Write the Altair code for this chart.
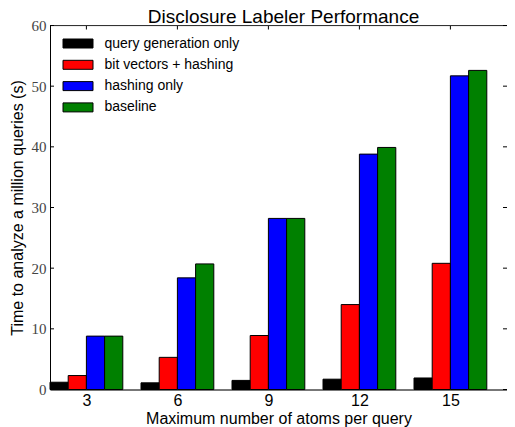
import json
import altair as alt
import pandas as pd

chart_title = "Disclosure Labeler Performance"
atoms = [3, 6, 9, 12, 15]
series_names = ["query generation only", "bit vectors + hashing", "hashing only", "baseline"]
series_colors = ["#000000", "#ff0000", "#0000ff", "#008000"]
query_gen = [1.2, 1.1, 1.5, 1.7, 1.9]
bitvec_hash = [2.3, 5.3, 8.9, 14.0, 20.8]
hash_only = [8.8, 18.4, 28.2, 38.8, 51.7]
baseline = [8.8, 20.7, 28.2, 39.9, 52.6]
y_ticks = [0, 10, 20, 30, 40, 50, 60]

values_by_series = [query_gen, bitvec_hash, hash_only, baseline]
rows = []
for si, (name, vals) in enumerate(zip(series_names, values_by_series)):
    for gi, (a, v) in enumerate(zip(atoms, vals)):
        rows.append({"atoms": a, "gi": gi, "si": si, "series": name, "time": v})
bars_df = pd.DataFrame(rows)
groups_df = pd.DataFrame({"atoms": atoms, "gi": list(range(len(atoms)))})
yticks_df = pd.DataFrame({"time": y_ticks})
title_df = pd.DataFrame({"title": [chart_title]})

W, H = 457, 364
n_series = len(series_names)
group_w = 0.8
bar_w = group_w / n_series
x_max = W / 91.0

x_scale = alt.Scale(domain=[0, x_max], nice=False, zero=False)
y_scale = alt.Scale(domain=[0, 60], nice=False, zero=True)

label_expr = json.dumps([str(a) for a in atoms]) + f"[round(datum.value - {group_w / 2})]"

x_axis = alt.Axis(
    values=[gi + group_w / 2 for gi in range(len(atoms))],
    labelExpr=label_expr, title="Maximum number of atoms per query",
    ticks=False, domain=True, domainColor="black", grid=False, labelPadding=3,
    labelFont="Liberation Sans", labelFontSize=16, labelColor="black",
    titleFont="Liberation Sans", titleFontSize=16, titleFontWeight="normal",
    titleColor="black", titleBaseline="alphabetic", titleY=33.5)
y_axis = alt.Axis(
    values=y_ticks, title="Time to analyze a million queries (s)",
    ticks=False, domain=True, domainColor="black", grid=False, labelPadding=4,
    labelFont="Liberation Serif", labelFontSize=15, labelColor="#444444",
    titleFont="Liberation Sans", titleFontSize=16, titleFontWeight="normal",
    titleColor="black", titleBaseline="middle", titleX=-33, titleY=H / 2)

bars = alt.Chart(bars_df).transform_calculate(
    x0=f"datum.gi + datum.si * {bar_w}",
    x1=f"datum.gi + (datum.si + 1) * {bar_w}",
).mark_rect(stroke="black", strokeWidth=1).encode(
    x=alt.X("x0:Q", scale=x_scale, axis=x_axis),
    x2="x1:Q",
    y=alt.Y("time:Q", scale=y_scale, axis=y_axis),
    y2=alt.datum(0),
    color=alt.Color("series:N",
                    scale=alt.Scale(domain=series_names, range=series_colors),
                    legend=alt.Legend(
                        orient="none", legendX=21, legendY=11, title=None,
                        symbolType="M-3,-0.9H3V0.9H-3Z", symbolSize=100,
                        symbolStrokeColor="black", symbolStrokeWidth=1,
                        symbolOpacity=1,
                        labelFont="Liberation Sans", labelFontSize=14,
                        labelColor="black", labelOffset=19.5, rowPadding=7.3,
                        padding=0)),
)

top_ticks = alt.Chart(groups_df).transform_calculate(
    x0=f"datum.gi + {group_w / 2}"
).mark_rule(color="black", strokeWidth=1).encode(
    x=alt.X("x0:Q", scale=x_scale),
    y=alt.value(0), y2=alt.value(4),
)

top_spine = alt.Chart(groups_df).mark_rule(color="#333333", strokeWidth=1).encode(
    x=alt.value(0), x2=alt.value(W), y=alt.value(0),
)

left_ticks = alt.Chart(yticks_df).mark_rule(color="black", strokeWidth=1).encode(
    y=alt.Y("time:Q", scale=y_scale),
    x=alt.value(0), x2=alt.value(4),
)

right_ticks = alt.Chart(yticks_df).mark_rule(color="black", strokeWidth=1).encode(
    y=alt.Y("time:Q", scale=y_scale),
    x=alt.value(W - 4), x2=alt.value(W),
)

title_text = alt.Chart(title_df).mark_text(
    font="Liberation Sans", fontSize=19, fontWeight="normal", color="black",
    align="center", baseline="alphabetic",
).encode(
    text="title:N",
    x=alt.value(W / 2 + 5), y=alt.value(-3),
)

chart = alt.layer(bars, top_ticks, top_spine, left_ticks, right_ticks, title_text).properties(
    width=W, height=H,
    autosize=alt.AutoSizeParams(type="none"),
    padding={"left": 42, "top": 17.5, "right": 0, "bottom": 37.5},
).configure_view(stroke=None).configure(background="white")

chart.save("out.html", embed_options={"renderer": "svg", "actions": False})
